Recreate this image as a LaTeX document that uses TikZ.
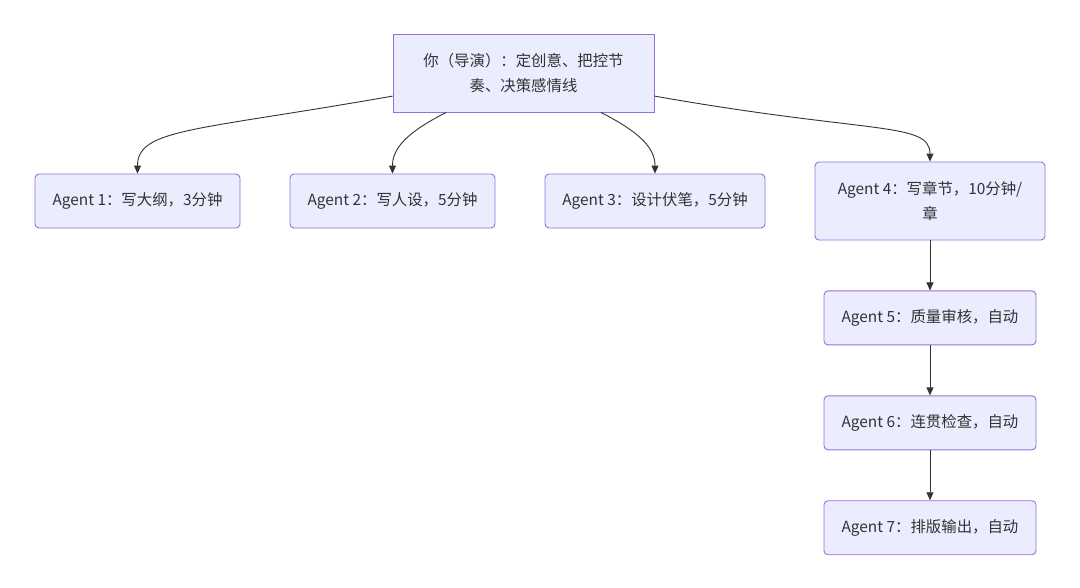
\documentclass[tikz,border=0pt]{standalone}
\usepackage{fontspec}
\setmainfont{Noto Sans CJK SC}
\usepackage{tikz}
\usetikzlibrary{positioning,arrows.meta}
\definecolor{boxfill}{HTML}{ECECFF}
\definecolor{boxline}{HTML}{9370DB}
\definecolor{ink}{HTML}{333333}

\begin{document}
\begin{tikzpicture}[x=1pt,y=1pt,node distance=50pt,inner sep=0pt]
\tikzstyle{main}=[rectangle, draw=boxline, fill=boxfill, line width=0.9pt, text=ink, align=center, font=\fontsize{15.4}{25}\selectfont, minimum height=54pt]
\tikzstyle{agent}=[main, rounded corners=4pt]
\tikzstyle{connect}=[-{Triangle[length=8pt,width=7pt]}, line width=0.9pt, draw=ink]
\tikzstyle{from}=[{Triangle[length=8pt,width=7pt]}-, line width=0.9pt, draw=ink]
\useasboundingbox (0,0) rectangle (1080,-587);
\node[main, minimum width=261pt, minimum height=78pt] (dir) at (523.5,-73) {你（导演）：定创意、把控节\\奏、决策感情线};
\node[agent, minimum width=205pt] (ag1) at (137.5,-201) {Agent 1：写大纲，3分钟};
\node[agent, minimum width=205pt] (ag2) at (392.5,-201) {Agent 2：写人设，5分钟};
\node[agent, minimum width=220pt] (ag3) at (655,-201) {Agent 3：设计伏笔，5分钟};
\node[agent, minimum width=230pt, minimum height=78pt] (ag4) at (930,-201) {Agent 4：写章节，10分钟/\\章};
\node[agent, minimum width=212pt] (ag5) [below=of ag4] {Agent 5：质量审核，自动};
\node[agent, minimum width=212pt] (ag6) [below=of ag5] {Agent 6：连贯检查，自动};
\node[agent, minimum width=212pt] (ag7) [below=of ag6] {Agent 7：排版输出，自动};
% director to the four writers
\path (dir.190) edge[connect, out=190, in=90, out distance=200pt, in distance=45pt] (ag1.north);
\path (dir.207) edge[connect, out=207, in=90, out distance=45pt, in distance=25pt] (ag2.north);
\path (dir.-27) edge[connect, out=-27, in=90, out distance=45pt, in distance=25pt] (ag3.north);
\path (dir.-10) edge[connect, out=-10, in=90, out distance=220pt, in distance=40pt] (ag4.north);
% chain
\path (ag5) edge[from] (ag4);
\path (ag6) edge[from] (ag5);
\path (ag7) edge[from] (ag6);
\end{tikzpicture}
\end{document}
